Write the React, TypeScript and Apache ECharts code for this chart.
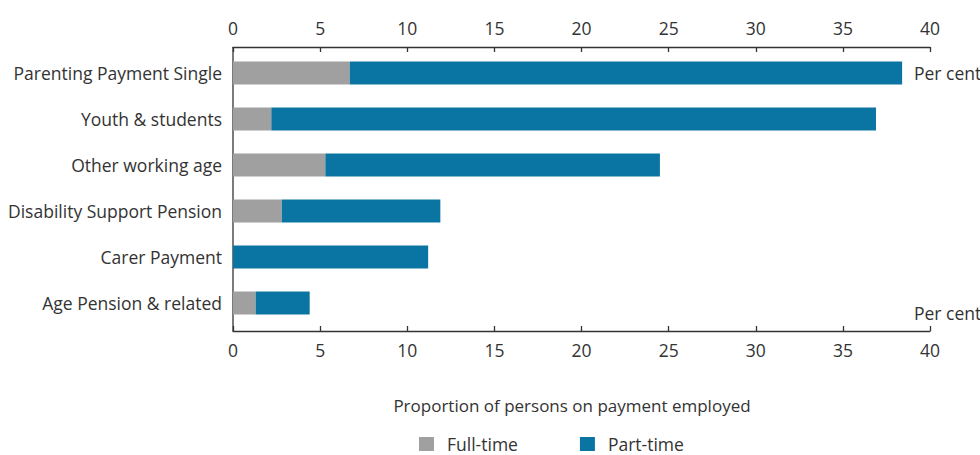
import React, { useEffect, useRef } from "react";
import * as echarts from "echarts";

const categories = [
  "Parenting Payment Single",
  "Youth & students",
  "Other working age",
  "Disability Support Pension",
  "Carer Payment",
  "Age Pension & related",
];
const fullTime = [6.7, 2.2, 5.3, 2.8, 0, 1.3];
const partTime = [31.7, 34.7, 19.2, 9.1, 11.2, 3.1];
const seriesNames = ["Full-time", "Part-time"];
const axisTitle = "Proportion of persons on payment employed";
const unitLabel = "Per cent";

const FONT = "'Open Sans', sans-serif";
const TXT = "#333333";
const FS = 17.5;

export default function App() {
  const ref = useRef<HTMLDivElement>(null);
  useEffect(() => {
    if (!ref.current) return;
    const chart = echarts.init(ref.current, undefined, { renderer: "svg" });
    const xCommon = {
      type: "value" as const,
      min: 0,
      max: 40,
      interval: 5,
      splitLine: { show: false },
      axisLine: { show: true, lineStyle: { color: "#333", width: 1.3 } },
      axisTick: { show: true, inside: true, length: 5, lineStyle: { color: "#333", width: 1.3 } },
      axisLabel: { color: TXT, fontFamily: FONT, fontSize: FS, margin: 10 },
    };
    chart.setOption({
      animation: false,
      textStyle: { fontFamily: FONT },
      grid: { left: 233, right: 50, top: 50, bottom: 129, containLabel: false },
      xAxis: [
        { ...xCommon, position: "top", offset: 3 },
        { ...xCommon, position: "bottom", offset: 5 },
      ],
      yAxis: {
        type: "category",
        data: categories,
        inverse: true,
        axisLine: { show: false },
        axisTick: { show: false },
        axisLabel: { color: TXT, fontFamily: FONT, fontSize: FS, margin: 11 },
      },
      legend: {
        data: seriesNames,
        left: 419,
        top: 435,
        padding: 0,
        itemWidth: 15,
        itemHeight: 14,
        itemGap: 62,
        icon: "rect",
        textStyle: { color: TXT, fontFamily: FONT, fontSize: FS, padding: [0, 0, 0, 8] },
      },
      series: [
        {
          name: seriesNames[0],
          type: "bar",
          stack: "total",
          xAxisIndex: 0,
          barWidth: 23,
          itemStyle: { color: "#a0a0a0" },
          data: fullTime,
        },
        {
          name: seriesNames[1],
          type: "bar",
          stack: "total",
          xAxisIndex: 0,
          barWidth: 23,
          itemStyle: { color: "#0a74a2" },
          data: partTime,
        },
      ],
      graphic: [
        {
          type: "line",
          shape: { x1: 233, y1: 47, x2: 233, y2: 331 },
          style: { stroke: "#333", lineWidth: 1.3 },
        },
        {
          type: "text",
          x: 914,
          y: 73,
          style: { text: unitLabel, fill: TXT, font: `${FS}px ${FONT}`, textVerticalAlign: "middle" },
        },
        {
          type: "text",
          x: 914,
          y: 313,
          style: { text: unitLabel, fill: TXT, font: `${FS}px ${FONT}`, textVerticalAlign: "middle" },
        },
        {
          type: "text",
          x: 572,
          y: 405,
          style: { text: axisTitle, fill: TXT, font: `17px ${FONT}`, textAlign: "center", textVerticalAlign: "middle" },
        },
      ],
    });
    return () => chart.dispose();
  }, []);
  return (
    <div
      ref={ref}
      style={{ position: "fixed", left: 0, top: 0, width: 980, height: 455, background: "#fff" }}
    />
  );
}
